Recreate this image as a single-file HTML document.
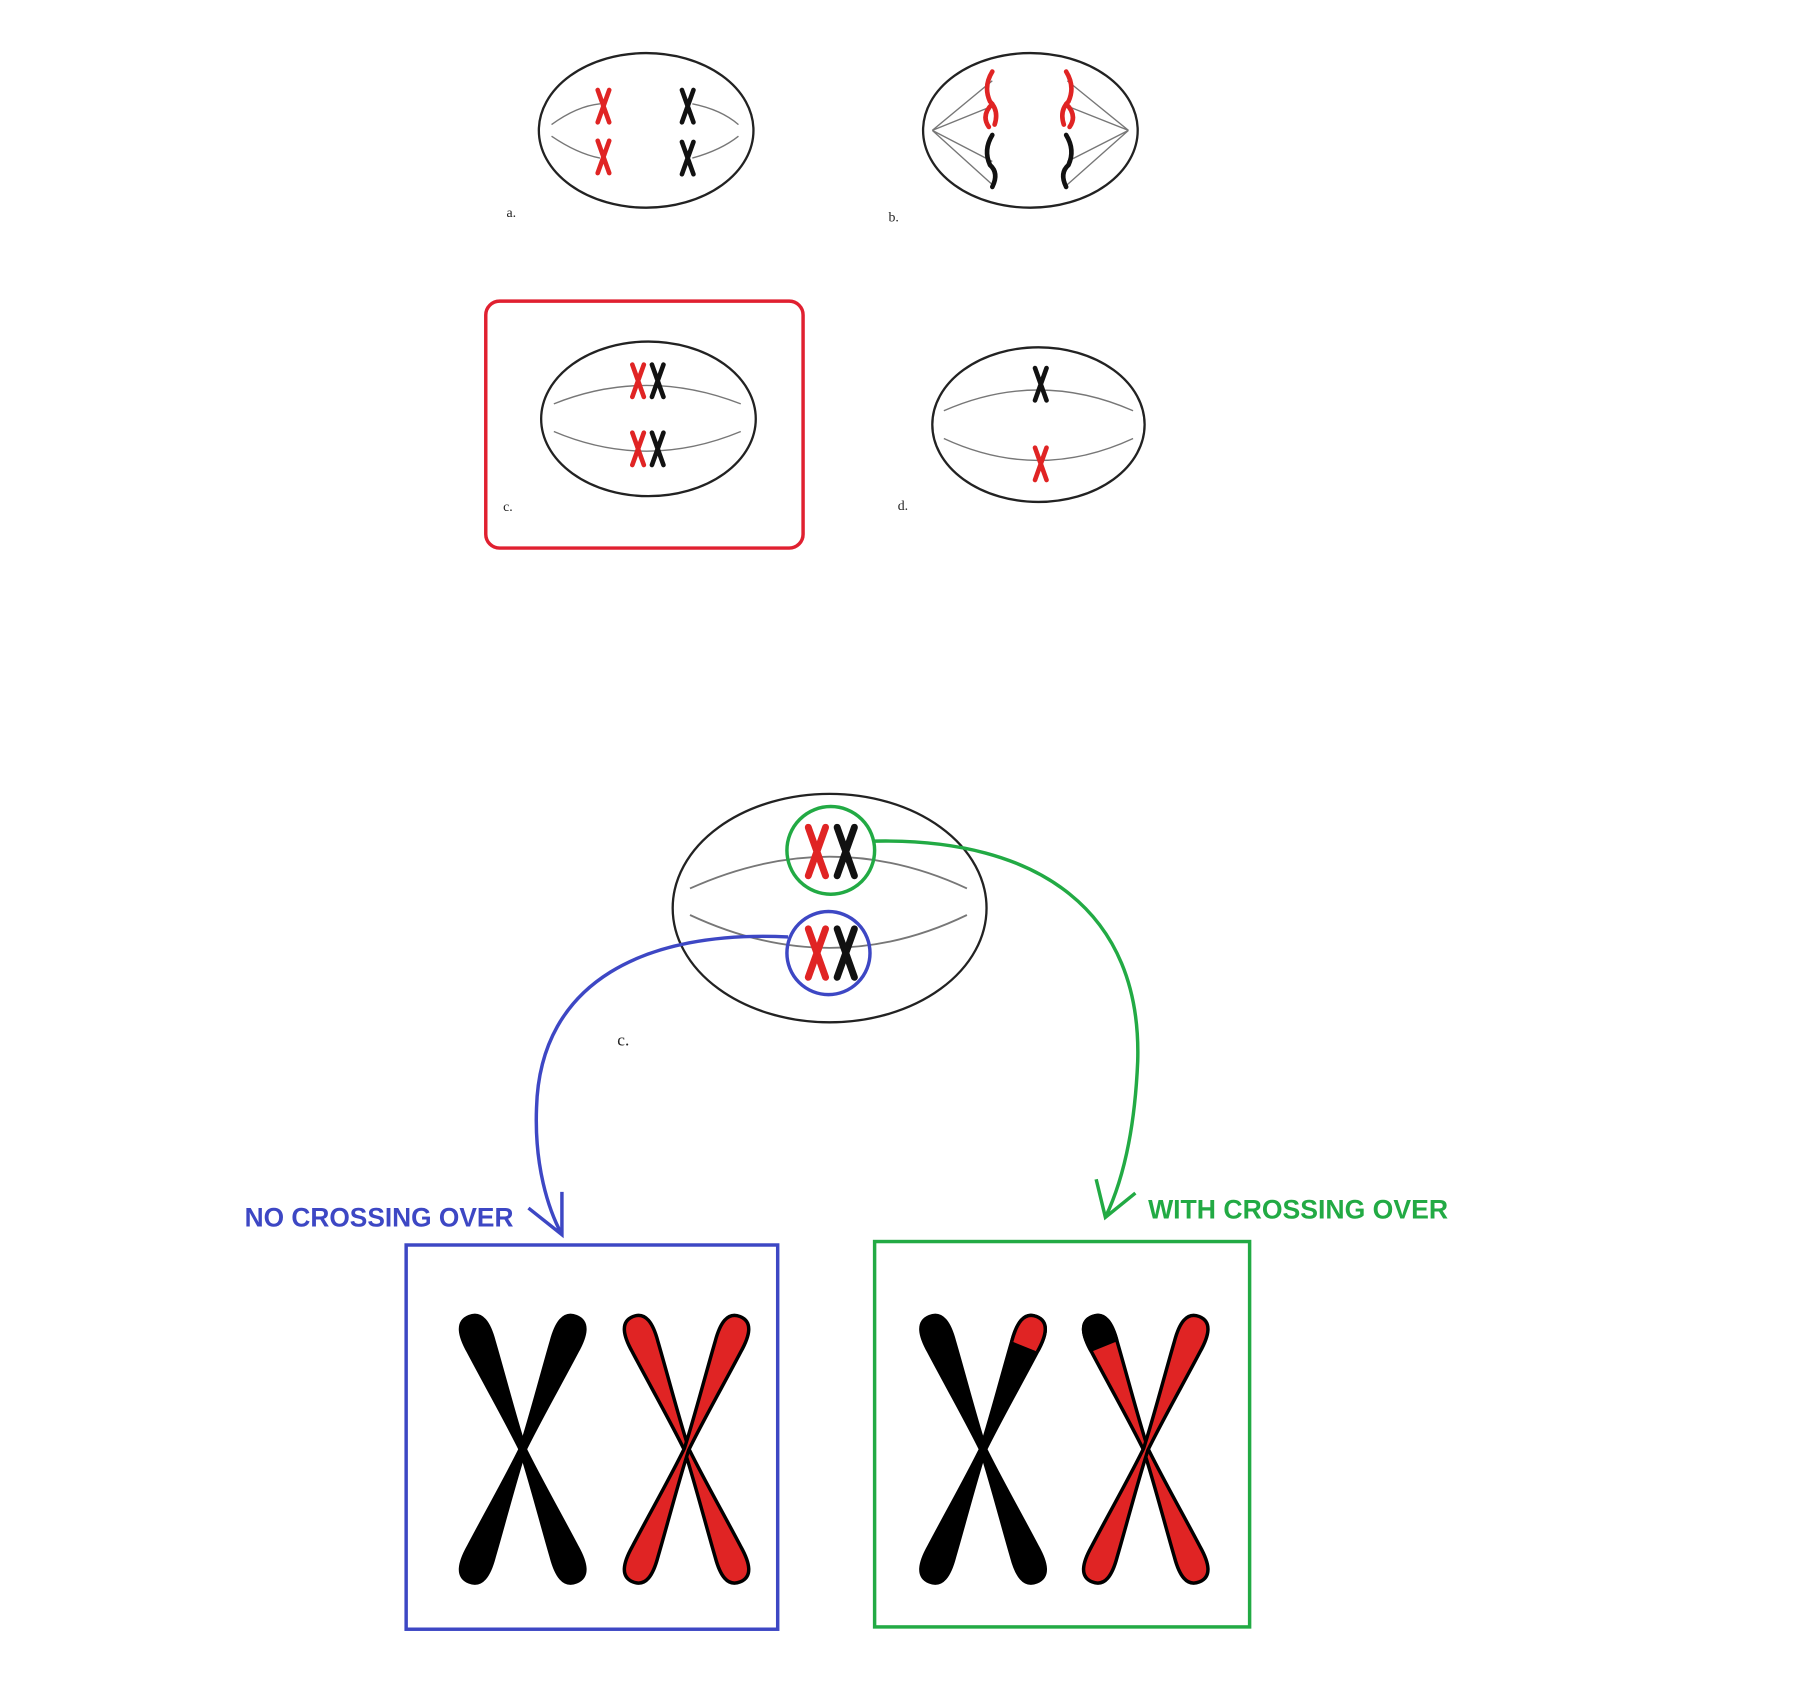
<!DOCTYPE html>
<html><head><meta charset="utf-8"><style>html,body{margin:0;padding:0;background:#fff}svg{display:block}</style></head>
<body>
<svg width="1800" height="1704" viewBox="0 0 1560 1476.8" preserveAspectRatio="none" xmlns="http://www.w3.org/2000/svg">
<defs>
<g id="xr" stroke="#e02424" stroke-width="4" stroke-linecap="round" fill="none"><path d="M-5,-14 Q0,0 5,14 M5,-14 Q0,0 -5,14"/></g>
<g id="xb" stroke="#111" stroke-width="4" stroke-linecap="round" fill="none"><path d="M-5,-14 Q0,0 5,14 M5,-14 Q0,0 -5,14"/></g>
<path id="arm" d="M0,-124 C12,-124 14,-112 12,-96 C9,-66 4,-28 2,0 C4,28 9,66 12,96 C14,112 12,124 0,124 C-12,124 -14,112 -12,96 C-9,66 -4,28 -2,0 C-4,-28 -9,-66 -12,-96 C-14,-112 -12,-124 0,-124 Z"/>
<clipPath id="tip"><rect x="-30" y="-140" width="60" height="44"/></clipPath>
</defs>
<g fill="none" stroke="#222" stroke-width="2">
<ellipse cx="560" cy="113" rx="93" ry="67"/>
<ellipse cx="893" cy="113" rx="93" ry="67"/>
<ellipse cx="562" cy="363" rx="93" ry="67"/>
<ellipse cx="900" cy="368" rx="92" ry="67"/>
<ellipse cx="719" cy="787" rx="136" ry="99"/>
</g>
<g fill="none" stroke="#777" stroke-width="1.2">
<path d="M478,108 Q500,92 520,90 M600,90 Q625,95 640,108"/>
<path d="M478,118 Q500,133 520,137 M600,137 Q625,130 640,118"/>
<path d="M808,113 L860,70 M808,113 L860,92 M808,113 L860,140 M808,113 L860,160 M978,113 L925,70 M978,113 L925,92 M978,113 L925,140 M978,113 L925,160"/>
<path d="M480,350 Q560,318 642,350 M480,374 Q560,408 642,374"/>
<path d="M818,356 Q900,320 982,356 M818,380 Q900,418 982,380"/>
<path d="M598,770 Q720,715 838,770 M598,793 Q720,850 838,793" stroke-width="1.6"/>
</g>
<use href="#xr" x="523" y="92"/><use href="#xr" x="523" y="136"/>
<use href="#xb" x="596" y="92"/><use href="#xb" x="596" y="137"/>
<g stroke-width="4" stroke-linecap="round" fill="none">
<path d="M860,62 Q852,75 858,88 Q866,96 862,108 M860,90 Q850,100 857,110" stroke="#e02424"/>
<path d="M924,62 Q932,75 926,88 Q918,96 922,108 M924,90 Q934,100 927,110" stroke="#e02424"/>
<path d="M860,117 Q852,130 858,143 Q866,150 860,162" stroke="#111"/>
<path d="M924,117 Q932,130 926,143 Q918,150 924,162" stroke="#111"/>
</g>
<use href="#xr" x="553" y="330"/><use href="#xb" x="570" y="330"/>
<use href="#xr" x="553" y="389"/><use href="#xb" x="570" y="389"/>
<use href="#xb" x="902" y="333"/><use href="#xr" x="902" y="402"/>
<g transform="translate(708,738) scale(1.5)"><use href="#xr"/></g><g transform="translate(733,738) scale(1.5)"><use href="#xb"/></g>
<g transform="translate(708,826) scale(1.5)"><use href="#xr"/></g><g transform="translate(733,826) scale(1.5)"><use href="#xb"/></g>
<g font-family="Liberation Serif, serif" font-size="12" fill="#222">
<text x="439" y="188">a.</text><text x="770" y="192">b.</text><text x="436" y="443">c.</text><text x="778" y="442">d.</text>
<text x="535" y="906" font-size="15">c.</text>
</g>
<rect x="421" y="261" width="275" height="214" rx="12" fill="none" stroke="#e02030" stroke-width="3"/>
<circle cx="720" cy="737" r="38" fill="none" stroke="#22aa44" stroke-width="3"/>
<circle cx="718" cy="826" r="36" fill="none" stroke="#3d47c4" stroke-width="3"/>
<path d="M758,729 C900,726 990,790 986,920 C983,990 970,1030 958,1055 M950,1022 L958,1055 L984,1034" fill="none" stroke="#22aa44" stroke-width="3"/>
<path d="M683,812 C560,806 468,850 465,960 C463,1010 475,1048 487,1070 M458,1047 L487,1070 L487,1033" fill="none" stroke="#3d47c4" stroke-width="3"/>
<g font-family="Liberation Sans, sans-serif" font-weight="bold" font-size="23">
<text x="212" y="1063" fill="#3d47c4" textLength="233" lengthAdjust="spacingAndGlyphs">NO CROSSING OVER</text>
<text x="995" y="1056" fill="#22aa44" textLength="260" lengthAdjust="spacingAndGlyphs">WITH CROSSING OVER</text>
</g>
<rect x="352" y="1079" width="322" height="333" fill="none" stroke="#3d47c4" stroke-width="3"/>
<rect x="758" y="1076" width="325" height="334" fill="none" stroke="#22aa44" stroke-width="3"/>
<g fill="#000" stroke="#000" stroke-width="3">
<use href="#arm" transform="translate(453,1256) rotate(-22)"/>
<use href="#arm" transform="translate(453,1256) rotate(22)"/>
<use href="#arm" transform="translate(852,1256) rotate(-22)"/>
<use href="#arm" transform="translate(852,1256) rotate(22)"/>
</g>
<g fill="#e02424" stroke="#000" stroke-width="3">
<use href="#arm" transform="translate(595,1256) rotate(-22)"/>
<use href="#arm" transform="translate(595,1256) rotate(22)"/>
<use href="#arm" transform="translate(993,1256) rotate(-22)"/>
<use href="#arm" transform="translate(993,1256) rotate(22)"/>
</g>
<g transform="translate(852,1256) rotate(22)"><use href="#arm" fill="#e02424" stroke="#000" stroke-width="3" clip-path="url(#tip)"/></g>
<g transform="translate(993,1256) rotate(-22)"><use href="#arm" fill="#000" stroke="#000" stroke-width="3" clip-path="url(#tip)"/></g>
</svg>
</body></html>
